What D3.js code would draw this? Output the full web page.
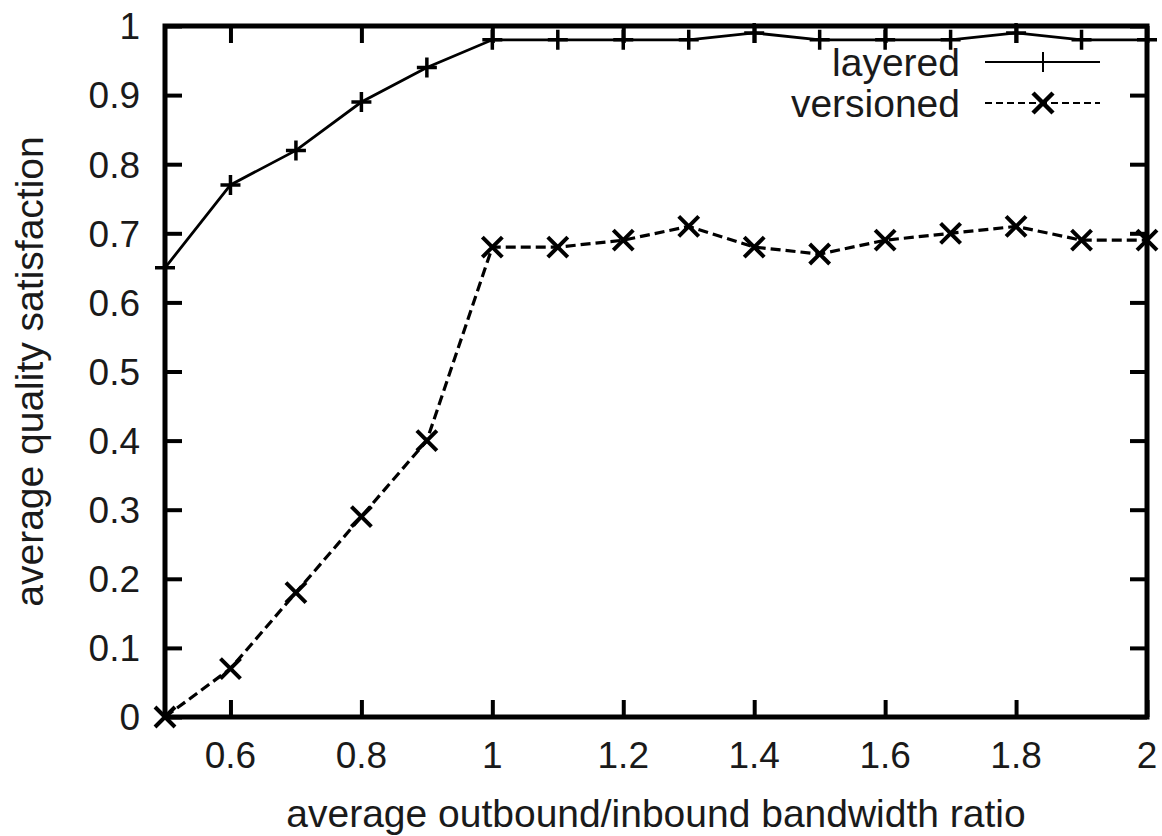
<!DOCTYPE html>
<html>
<head>
<meta charset="utf-8">
<script src="https://cdn.jsdelivr.net/npm/d3@7"></script>
<style>
  body { margin: 0; background: #fff; }
  svg { display: block; font-family: "Liberation Sans", Arial, sans-serif; }
</style>
</head>
<body>
<script>
// data
var ratios = [0.5, 0.6, 0.7, 0.8, 0.9, 1.0, 1.1, 1.2, 1.3, 1.4, 1.5, 1.6, 1.7, 1.8, 1.9, 2.0];
var layered = [0.65, 0.77, 0.82, 0.89, 0.94, 0.98, 0.98, 0.98, 0.98, 0.99, 0.98, 0.98, 0.98, 0.99, 0.98, 0.98];
var versioned = [0.0, 0.07, 0.18, 0.29, 0.40, 0.68, 0.68, 0.69, 0.71, 0.68, 0.67, 0.69, 0.70, 0.71, 0.69, 0.69];
var xTicks = [0.6, 0.8, 1.0, 1.2, 1.4, 1.6, 1.8, 2.0];
var yTicks = [0, 0.1, 0.2, 0.3, 0.4, 0.5, 0.6, 0.7, 0.8, 0.9, 1];

var width = 1162, height = 836;
var plotLeft = 165, plotRight = 1147, plotTop = 26, plotBottom = 717;
var tickLen = 17;

var svg = d3.select("body").append("svg")
    .attr("width", width)
    .attr("height", height);

var x = d3.scaleLinear().domain([0.5, 2]).range([plotLeft, plotRight]);
var y = d3.scaleLinear().domain([0, 1]).range([plotBottom, plotTop]);

var fmt = function (d) { return d3.format("~g")(d); };

// axes: gnuplot style inward ticks, mirrored on all four sides
svg.append("g")
    .attr("transform", "translate(0," + plotBottom + ")")
    .call(d3.axisTop(x).tickValues(xTicks).tickSize(tickLen).tickFormat(""))
    .call(function (g) { g.select(".domain").remove(); });
svg.append("g")
    .attr("transform", "translate(0," + plotTop + ")")
    .call(d3.axisBottom(x).tickValues(xTicks).tickSize(tickLen).tickFormat(""))
    .call(function (g) { g.select(".domain").remove(); });
svg.append("g")
    .attr("transform", "translate(" + plotLeft + ",0)")
    .call(d3.axisRight(y).tickValues(yTicks).tickSize(tickLen).tickFormat(""))
    .call(function (g) { g.select(".domain").remove(); });
svg.append("g")
    .attr("transform", "translate(" + plotRight + ",0)")
    .call(d3.axisLeft(y).tickValues(yTicks).tickSize(tickLen).tickFormat(""))
    .call(function (g) { g.select(".domain").remove(); });
svg.selectAll(".tick line").attr("stroke", "#000").attr("stroke-width", 4);

// tick labels
svg.append("g").selectAll("text")
    .data(xTicks)
    .enter()
    .append("text")
    .attr("x", function (d) { return x(d); })
    .attr("y", 768)
    .attr("text-anchor", "middle")
    .attr("font-size", 37)
    .attr("fill", "#1a1a1a")
    .text(fmt);

svg.append("g").selectAll("text")
    .data(yTicks)
    .enter()
    .append("text")
    .attr("x", 140)
    .attr("y", function (d) { return y(d); })
    .attr("dy", "0.36em")
    .attr("text-anchor", "end")
    .attr("font-size", 37)
    .attr("fill", "#1a1a1a")
    .text(fmt);

// axis titles
svg.append("text")
    .attr("x", (plotLeft + plotRight) / 2)
    .attr("y", 827)
    .attr("text-anchor", "middle")
    .attr("font-size", 39)
    .attr("fill", "#1a1a1a")
    .text("average outbound/inbound bandwidth ratio");

svg.append("text")
    .attr("transform", "translate(43," + ((plotTop + plotBottom) / 2) + ") rotate(-90)")
    .attr("text-anchor", "middle")
    .attr("font-size", 39)
    .attr("fill", "#1a1a1a")
    .text("average quality satisfaction");

// series
var layeredPts = ratios.map(function (r, i) { return [r, layered[i]]; });
var versionedPts = ratios.map(function (r, i) { return [r, versioned[i]]; });

var line = d3.line()
    .x(function (d) { return x(d[0]); })
    .y(function (d) { return y(d[1]); });

svg.append("path")
    .datum(layeredPts)
    .attr("d", line)
    .attr("fill", "none")
    .attr("stroke", "#000")
    .attr("stroke-width", 2.8);

svg.append("path")
    .datum(versionedPts)
    .attr("d", line)
    .attr("fill", "none")
    .attr("stroke", "#000")
    .attr("stroke-width", 3.2)
    .attr("stroke-dasharray", "10,5");

var plusPath = "M-10,0H10M0,-10V10";
var crossPath = "M-10,-10L10,10M-10,10L10,-10";

svg.append("g").selectAll("path")
    .data(layeredPts)
    .enter()
    .append("path")
    .attr("transform", function (d) { return "translate(" + x(d[0]) + "," + y(d[1]) + ")"; })
    .attr("d", plusPath)
    .attr("stroke", "#000")
    .attr("stroke-width", 3.5);

svg.append("g").selectAll("path")
    .data(versionedPts)
    .enter()
    .append("path")
    .attr("transform", function (d) { return "translate(" + x(d[0]) + "," + y(d[1]) + ")"; })
    .attr("d", crossPath)
    .attr("stroke", "#000")
    .attr("stroke-width", 4);

// border
svg.append("rect")
    .attr("x", plotLeft)
    .attr("y", plotTop)
    .attr("width", plotRight - plotLeft)
    .attr("height", plotBottom - plotTop)
    .attr("fill", "none")
    .attr("stroke", "#000")
    .attr("stroke-width", 5);

// legend
var legend = svg.append("g");
var legendRows = [
    { name: "layered", y: 62, dash: null, mark: plusPath, w: 2, mw: 2 },
    { name: "versioned", y: 103, dash: "7,4", mark: crossPath, w: 2, mw: 4.5 }
];
legendRows.forEach(function (r) {
    legend.append("text")
        .attr("x", 960)
        .attr("y", r.y)
        .attr("dy", "0.36em")
        .attr("text-anchor", "end")
        .attr("font-size", 39)
        .attr("fill", "#1a1a1a")
        .text(r.name);
    legend.append("line")
        .attr("x1", 985).attr("x2", 1100)
        .attr("y1", r.y).attr("y2", r.y)
        .attr("stroke", "#000")
        .attr("stroke-width", r.w)
        .attr("stroke-dasharray", r.dash);
    legend.append("path")
        .attr("transform", "translate(1043," + r.y + ")")
        .attr("d", r.mark)
        .attr("stroke", "#000")
        .attr("stroke-width", r.mw);
});
</script>
</body>
</html>
